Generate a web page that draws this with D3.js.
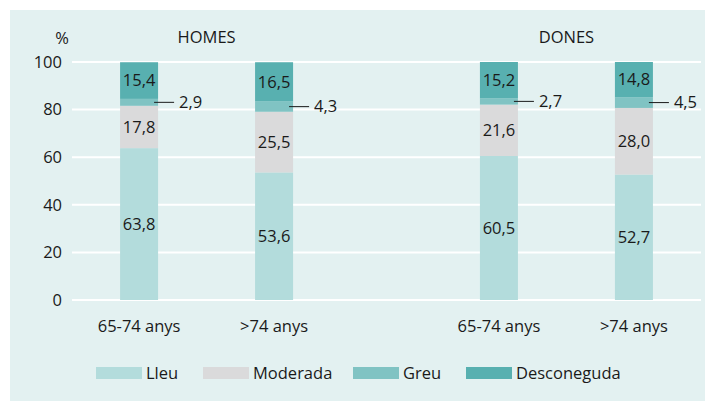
<!DOCTYPE html>
<html>
<head>
<meta charset="utf-8">
<script src="https://cdn.jsdelivr.net/npm/d3@7"></script>
<style>
  html, body { margin: 0; padding: 0; background: #ffffff; }
  svg { display: block; font-family: "Open Sans", "Noto Sans", sans-serif; }
</style>
</head>
<body>
<svg id="chart" width="705" height="401"></svg>
<script>
// Groups (sex) and age bands
const groups = ["HOMES", "DONES"];
const ageBands = ["65-74 anys", ">74 anys"];

// Severity categories, stacked bottom to top
const severities = ["Lleu", "Moderada", "Greu", "Desconeguda"];

// Percentages per bar: [HOMES 65-74, HOMES >74, DONES 65-74, DONES >74]
const lleu        = [63.8, 53.6, 60.5, 52.7];
const moderada    = [17.8, 25.5, 21.6, 28.0];
const greu        = [2.9, 4.3, 2.7, 4.5];
const desconeguda = [15.4, 16.5, 15.2, 14.8];

const yTicks = [0, 20, 40, 60, 80, 100];

const colors = {
  "Lleu": "#b3dcdc",
  "Moderada": "#dadadb",
  "Greu": "#80c3c3",
  "Desconeguda": "#58b0b0"
};

const fmt = v => d3.format(".1f")(v).replace(".", ",");
const FS = 16.5;

// Build one row per bar
const rows = [];
groups.forEach((g, gi) => ageBands.forEach((a, ai) => {
  const i = gi * ageBands.length + ai;
  rows.push({ group: g, age: a, Lleu: lleu[i], Moderada: moderada[i], Greu: greu[i], Desconeguda: desconeguda[i] });
}));

const svg = d3.select("#chart");
const W = 705, H = 401;

// Panel background
svg.append("rect").attr("x", 10).attr("y", 10).attr("width", W - 10).attr("height", H - 10).attr("fill", "#e3f1f1");

const plotLeft = 72, plotRight = 701, plotTop = 62, plotBottom = 300;

const y = d3.scaleLinear().domain([0, 100]).range([plotBottom, plotTop]);
const xGroup = d3.scalePoint().domain(groups).range([plotLeft, plotRight]).padding(0.374);
const xAge = d3.scaleBand().domain(ageBands).range([-86.5, 86.5]).paddingInner(0.7185).paddingOuter(0);

const textColor = "#1a1a1a";

// Gridlines
svg.append("g")
  .selectAll("line")
  .data(yTicks)
  .join("line")
  .attr("x1", plotLeft).attr("x2", plotRight)
  .attr("y1", d => y(d)).attr("y2", d => y(d))
  .attr("stroke", "#ffffff").attr("stroke-width", 2);

// Y axis labels
const yAxis = svg.append("g")
  .attr("transform", `translate(${plotLeft - 10},0)`)
  .call(d3.axisLeft(y).tickValues(yTicks).tickSize(0).tickPadding(0));
yAxis.select(".domain").remove();
yAxis.selectAll("text")
  .attr("font-size", FS).attr("fill", textColor)
  .attr("font-family", "'Open Sans', sans-serif");

svg.append("text").attr("x", 69).attr("y", 38).attr("dy", "0.35em")
  .attr("text-anchor", "end").attr("font-size", FS).attr("fill", textColor).text("%");

// Group titles
svg.append("g").selectAll("text").data(groups).join("text")
  .attr("x", d => xGroup(d)).attr("y", 37).attr("dy", "0.35em")
  .attr("text-anchor", "middle").attr("font-size", FS).attr("fill", textColor)
  .text(d => d);

const stack = d3.stack().keys(severities);
const series = stack(rows);

const barX = d => xGroup(d.data.group) + xAge(d.data.age);

// Stacked segments
svg.append("g").selectAll("g").data(series).join("g")
  .attr("fill", s => colors[s.key])
  .selectAll("rect").data(s => s).join("rect")
  .attr("x", barX)
  .attr("width", xAge.bandwidth())
  .attr("y", d => y(d[1]))
  .attr("height", d => y(d[0]) - y(d[1]));

// Value labels
series.forEach(s => {
  s.forEach(d => {
    const v = d.data[s.key];
    const cy = y((d[0] + d[1]) / 2);
    const x0 = barX(d);
    if (s.key === "Greu") {
      const edge = x0 + xAge.bandwidth();
      svg.append("line")
        .attr("x1", edge - 4).attr("x2", edge + 16)
        .attr("y1", cy).attr("y2", cy)
        .attr("stroke", textColor).attr("stroke-width", 1);
      svg.append("text")
        .attr("x", edge + 21).attr("y", cy).attr("dy", "0.35em")
        .attr("font-size", FS).attr("fill", textColor).text(fmt(v));
    } else {
      svg.append("text")
        .attr("x", x0 + xAge.bandwidth() / 2).attr("y", cy).attr("dy", "0.35em")
        .attr("text-anchor", "middle").attr("font-size", FS).attr("fill", textColor).text(fmt(v));
    }
  });
});

// Category labels
svg.append("g").selectAll("text").data(rows).join("text")
  .attr("x", d => xGroup(d.group) + xAge(d.age) + xAge.bandwidth() / 2)
  .attr("y", 326).attr("dy", "0.35em")
  .attr("text-anchor", "middle").attr("font-size", FS).attr("fill", textColor)
  .text(d => d.age);

// Legend
const legendX = [96, 203, 353, 466];
const legend = svg.append("g").selectAll("g").data(severities).join("g")
  .attr("transform", (d, i) => `translate(${legendX[i]},373)`);
legend.append("rect").attr("x", 0).attr("y", -6).attr("width", 46).attr("height", 12)
  .attr("fill", d => colors[d]);
legend.append("text").attr("x", 50).attr("y", 0).attr("dy", "0.35em")
  .attr("font-size", FS).attr("fill", textColor).text(d => d);
</script>
</body>
</html>
